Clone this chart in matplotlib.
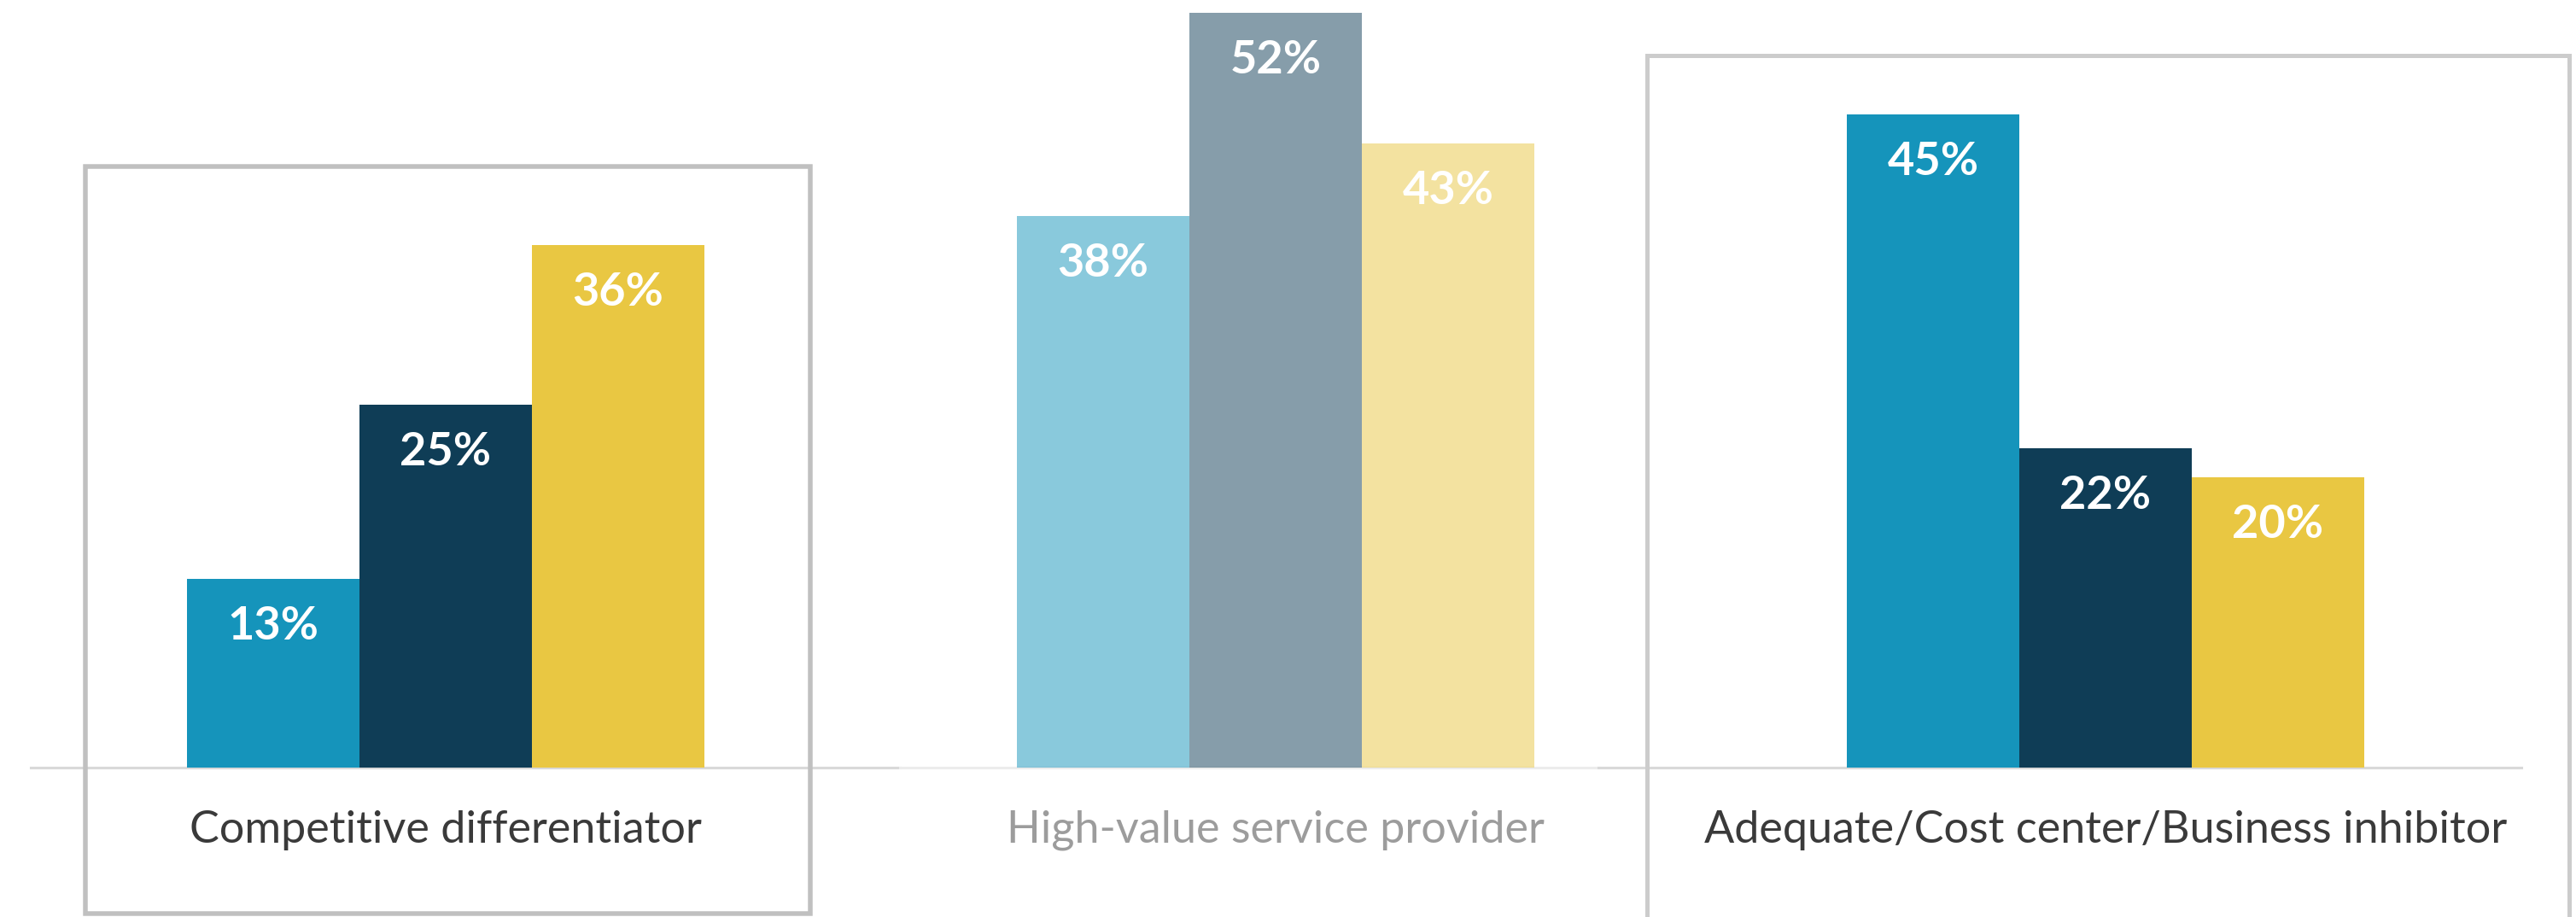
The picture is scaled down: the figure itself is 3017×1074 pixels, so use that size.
import matplotlib
matplotlib.use("Agg")
import matplotlib.pyplot as plt
from matplotlib.patches import Rectangle
import numpy as np

categories = ["Competitive differentiator", "High-value service provider",
              "Adequate/Cost center/Business inhibitor"]
series_a = [13, 38, 45]
series_b = [25, 52, 22]
series_c = [36, 43, 20]

colors = ["#1594bb", "#0f3d56", "#e9c742"]
group_alpha = [1.0, 0.5, 1.0]
label_colors = ["#3a3a3a", "#3a3a3a", "#3a3a3a"]

W, H = 3017, 1074
DPI = 100
fig = plt.figure(figsize=(W / DPI, H / DPI), dpi=DPI)
ax = fig.add_axes([0, 0, 1, 1])
ax.set_axis_off()

# mapping: group center spacing 972 px, first center at 522 px; baseline 899 px from top; 17 px per %
spacing = 972.0
x0 = 522.0
ax.set_xlim(-x0 / spacing, (W - x0) / spacing)
base_from_bottom = H - 899
ppu = 17.0
ax.set_ylim(-base_from_bottom / ppu, (H - base_from_bottom) / ppu)

bw = 202.0 / spacing
x = np.arange(len(categories))
for i, vals in enumerate([series_a, series_b, series_c]):
    for g in range(len(categories)):
        xc = x[g] + (i - 1) * bw
        ax.bar(xc, vals[g], width=bw, color=colors[i], alpha=group_alpha[g],
               linewidth=0, zorder=2)
        ax.text(xc, vals[g] - 3.25, f"{vals[g]}%", ha="center", va="center",
                color="white", fontsize=39, fontweight="bold", family="Lato",
                zorder=4)

for g, cat in enumerate(categories):
    ax.text(x[g], -4.3, cat, ha="center", va="center", fontsize=37.5,
            family="Lato", color=label_colors[g], alpha=group_alpha[g], zorder=4)

# baselines (figure pixel fractions)
def px(v):
    return v / W
base_segments = [(36, 1054, "#d9d9d9"), (1054, 1872, "#ececec"), (1872, 2953, "#d9d9d9")]
for a, b, c in base_segments:
    ax.axhline(0, xmin=px(a), xmax=px(b), color=c, linewidth=2.2, zorder=1)

# boxes
lw1 = 5.5 * 72 / DPI
fig.patches.append(Rectangle((99.5 / W, (H - 1070) / H), (949 - 99.5) / W, (1070 - 195) / H,
                             transform=fig.transFigure, fill=False, edgecolor="#c0c0c0",
                             linewidth=lw1, zorder=5))
fig.patches.append(Rectangle((1929.5 / W, -40 / H), (3008.5 - 1929.5) / W, (H + 40 - 64.5) / H,
                             transform=fig.transFigure, fill=False, edgecolor="#cccccc",
                             linewidth=5 * 72 / DPI, zorder=5))

fig.savefig("out.png", dpi=DPI, facecolor="white")
